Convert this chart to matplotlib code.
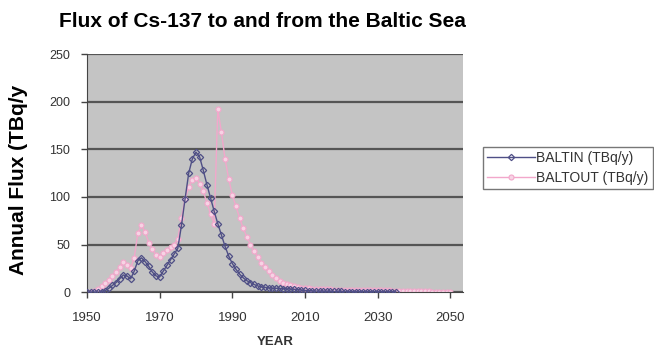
import matplotlib
matplotlib.use("Agg")
import matplotlib.pyplot as plt
from matplotlib.ticker import MultipleLocator, FixedLocator

plt.rcParams["font.family"] = ["Liberation Sans", "DejaVu Sans"]

# Annual Cs-137 flux (TBq/y)
years_in = list(range(1950, 2036))
baltin = [
    0, 0, 0, 0, 0.5, 1.5, 4, 7, 10, 14,                 # 1950-1959
    18, 17, 14, 22, 33, 36, 32, 27, 21, 17,             # 1960-1969
    16, 22, 28, 34, 40, 46, 70, 98, 125, 140,           # 1970-1979
    147, 142, 128, 113, 99, 85, 72, 60, 48, 38,         # 1980-1989
    30, 24, 19, 15, 12, 10, 8, 6.5, 5.5, 5,             # 1990-1999
    4.5, 4, 4, 3.8, 3.6, 3.4, 3.2, 3, 2.6, 2.2,         # 2000-2009
    1.8, 1.5, 1.3, 1.1, 1, 0.9, 0.8, 0.8, 0.7, 0.7,     # 2010-2019
    0.7, 0.6, 0.6, 0.6, 0.6, 0.5, 0.5, 0.5, 0.5, 0.5,   # 2020-2029
    0.4, 0.4, 0.4, 0.4, 0.4, 0.4,                       # 2030-2035
]

years_out = list(range(1950, 2051))
baltout = [
    0, 0, 1, 3, 6, 10, 13, 17, 21, 26,                  # 1950-1959
    32, 29, 25, 36, 62, 70, 63, 52, 45, 39,             # 1960-1969
    37, 41, 44, 47, 50, 56, 78, 98, 110, 118,           # 1970-1979
    120, 114, 106, 94, 82, 72, 192, 168, 140, 119,      # 1980-1989
    102, 90, 78, 67, 58, 50, 43, 37, 31, 26,            # 1990-1999
    22, 18, 15, 12, 10, 8.5, 7, 6, 5.2, 4.6,            # 2000-2009
    4.2, 3.8, 3.5, 3.3, 3.1, 3, 2.9, 2.8, 2.7, 2.6,     # 2010-2019
    2.5, 2.4, 2.3, 2.2, 2.2, 2.1, 2.0, 2.0, 1.9, 1.9,   # 2020-2029
    1.8, 1.8, 1.7, 1.7, 1.6, 1.6, 1.0, 0.9, 0.9, 0.8,   # 2030-2039
    0.8, 0.8, 0.7, 0.7, 0.7, 0.6, 0.6, 0.6, 0.5, 0.5,   # 2040-2049
    0.5,                                                # 2050
]

year_ticks = [1950, 1970, 1990, 2010, 2030, 2050]

IN_COLOR = "#4f4f86"
OUT_COLOR = "#f2a7cb"

fig = plt.figure(figsize=(6.54, 3.49), dpi=100)
ax = fig.add_axes([0.133, 0.163, 0.575, 0.682])
ax.set_facecolor("#c4c4c4")

ax.plot(years_in, baltin, color=IN_COLOR, linewidth=1.0, marker="D",
        markersize=3.2, markerfacecolor="none", markeredgewidth=0.9,
        label="BALTIN (TBq/y)", zorder=3)
ax.plot(years_out, baltout, color=OUT_COLOR, linewidth=1.0, marker="o",
        markersize=3.6, markerfacecolor="#f7d3e4", markeredgewidth=0.8,
        label="BALTOUT (TBq/y)", zorder=2)

ax.set_xlim(1950, 2053.5)
ax.set_ylim(0, 250)
ax.xaxis.set_major_locator(FixedLocator(year_ticks))
ax.yaxis.set_major_locator(MultipleLocator(50))
ax.yaxis.grid(True, color="#555555", linewidth=1.6)
ax.set_axisbelow(True)

for side in ("top", "right"):
    ax.spines[side].set_visible(False)
ax.spines["left"].set_color("#444444")
ax.spines["bottom"].set_color("#444444")
ax.tick_params(axis="both", colors="#444444", labelcolor="#333333",
               labelsize=9.5, length=4, width=1)
ax.tick_params(axis="y", labelsize=9, pad=8)
ax.tick_params(axis="x", pad=10)

ax.set_xlabel("YEAR", fontsize=9.5, fontweight="bold", color="#333333",
              labelpad=9)

fig.text(0.402, 0.937, "Flux of Cs-137 to and from the Baltic Sea",
         ha="center", va="center", fontsize=15, fontweight="bold")
fig.text(0.029, 0.484, "Annual Flux (TBq/y", rotation=90, ha="center",
         va="center", fontsize=15, fontweight="bold")

leg = fig.legend(loc="upper left", bbox_to_anchor=(0.739, 0.579),
                 fontsize=10, frameon=True, fancybox=False,
                 handlelength=3.4, borderpad=0.3, labelspacing=0.4,
                 handletextpad=0.1, borderaxespad=0)
leg.get_frame().set_edgecolor("#555555")
leg.get_frame().set_linewidth(1.0)
for t in leg.get_texts():
    t.set_color("#333333")

fig.savefig("out.png", dpi=100)
